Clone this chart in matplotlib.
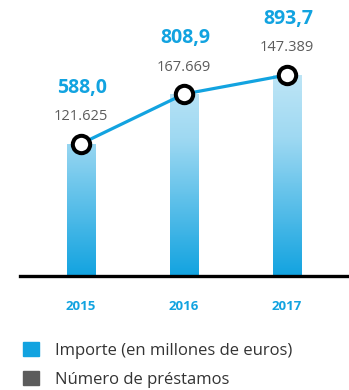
import numpy as np
import matplotlib
matplotlib.use("Agg")
import matplotlib.pyplot as plt
from matplotlib.patches import Patch
from matplotlib.colors import LinearSegmentedColormap

plt.rcParams['font.family'] = ['Open Sans', 'DejaVu Sans']

years = ['2015', '2016', '2017']
importe = [588.0, 808.9, 893.7]          # millones de euros
prestamos = [121625, 167669, 147389]     # numero de prestamos
importe_labels = ['588,0', '808,9', '893,7']
prestamos_labels = ['121.625', '167.669', '147.389']

blue = '#12a3e0'
gray = '#5c5c5c'

fig = plt.figure(figsize=(3.49, 3.90), dpi=100)
# axes: y=0 sits on the black baseline, top of the axes is the top of the figure
ax = fig.add_axes([0, 114 / 390, 1, 276 / 390])
ax.set_xlim(-0.786, 2.602)
ax.set_ylim(0, 1227)
ax.axis('off')

x = np.arange(len(years))
bar_w = 0.28

# vertical gradient, light at the top and strong blue at the baseline
cmap = LinearSegmentedColormap.from_list('grad', ['#e4f4fb', '#9fd9f2', '#12a3e0'])
grad = np.linspace(0, 1, 256).reshape(-1, 1)
bars = ax.bar(x, importe, width=bar_w, color='none', zorder=1)
for b in bars:
    im = ax.imshow(grad, cmap=cmap, aspect='auto', extent=[b.get_x(), b.get_x() + b.get_width(), 0, 1227],
                   origin='upper', zorder=1)
    im.set_clip_path(b)

ax.axhline(0, xmin=20 / 349, xmax=1, color='black', lw=2.4, zorder=2, clip_on=False)

ax.plot(x, importe, color=blue, lw=2.3, zorder=3, marker='o', markersize=12.5,
        markerfacecolor='white', markeredgecolor='black', markeredgewidth=2.9, clip_on=False)

for i in range(len(years)):
    ax.annotate(importe_labels[i], (x[i], importe[i]), xytext=(1, 56), textcoords='offset pixels',
                ha='center', va='center', fontsize=14, fontweight='bold', color=blue)
    ax.annotate(prestamos_labels[i], (x[i], importe[i]), xytext=(0, 27), textcoords='offset pixels',
                ha='center', va='center', fontsize=10.5, color=gray)
    ax.annotate(years[i], (x[i], 0), xytext=(0, -31), textcoords='offset pixels',
                ha='center', va='center', fontsize=9.5, fontweight='bold', color=blue)

handles = [Patch(color=blue), Patch(color=gray)]
fig.legend(handles, ['Importe (en millones de euros)', 'Número de préstamos'],
           loc='upper left', bbox_to_anchor=(23 / 349, 1 - 342 / 390), frameon=False,
           fontsize=12, handlelength=0.95, handleheight=0.95, handletextpad=1.0,
           labelspacing=0.72, borderpad=0, borderaxespad=0, labelcolor='#333333')

fig.savefig('out.png', dpi=100)
